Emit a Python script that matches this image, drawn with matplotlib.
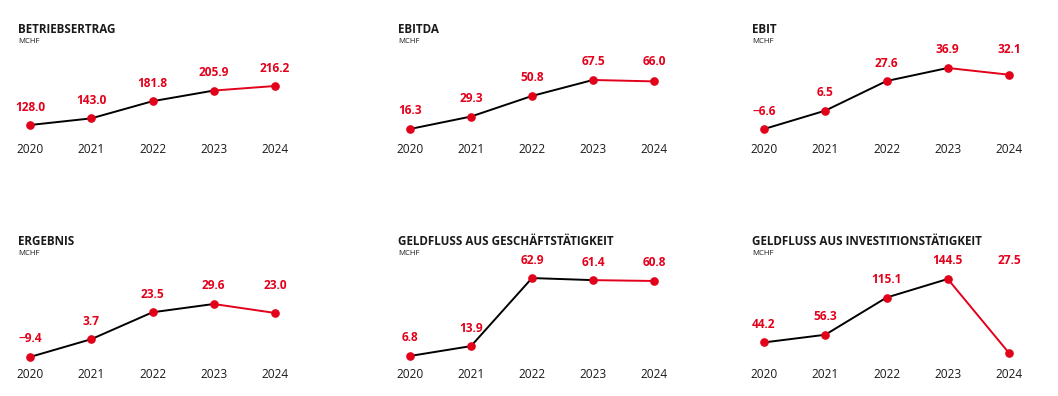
"""Kennzahlen 2020-2024 als kleine Liniendiagramme (2 x 3)."""

import matplotlib.pyplot as plt

plt.rcParams["font.family"] = ["Open Sans", "DejaVu Sans"]

W, H = 1058, 396
RED = "#e2001a"
INK = "#1a1a1a"

# ---------------------------------------------------------------------------
# Data
# ---------------------------------------------------------------------------

years = ["2020", "2021", "2022", "2023", "2024"]
unit = "MCHF"

titles = [
    "BETRIEBSERTRAG",
    "EBITDA",
    "EBIT",
    "ERGEBNIS",
    "GELDFLUSS AUS GESCHÄFTSTÄTIGKEIT",
    "GELDFLUSS AUS INVESTITIONSTÄTIGKEIT",
]

betriebsertrag = [128.0, 143.0, 181.8, 205.9, 216.2]
ebitda = [16.3, 29.3, 50.8, 67.5, 66.0]
ebit = [-6.6, 6.5, 27.6, 36.9, 32.1]
ergebnis = [-9.4, 3.7, 23.5, 29.6, 23.0]
geldfluss_geschaeft = [6.8, 13.9, 62.9, 61.4, 60.8]
geldfluss_invest = [44.2, 56.3, 115.1, 144.5, 27.5]

series = [betriebsertrag, ebitda, ebit, ergebnis, geldfluss_geschaeft, geldfluss_invest]

# ---------------------------------------------------------------------------
# Layout (pixels): first/last year x, axes top/bottom, y range per panel
# ---------------------------------------------------------------------------

col_x = [(30, 275), (410, 654), (764, 1009)]
row_y = [(50, 140), (265, 365)]
ylims = [(94.1, 297.6), (4.8, 98.8), (-14.4, 49.7),
         (-15.3, 58.3), (0.3, 72.3), (8.5, 166.6)]


def fmt(v):
    s = f"{abs(v):.1f}"
    return "\u2212" + s if v < 0 else s


fig = plt.figure(figsize=(W / 100, H / 100), dpi=100)

for i, (title, vals) in enumerate(zip(titles, series)):
    r, c = divmod(i, 3)
    x0, x4 = col_x[c]
    top, bottom = row_y[r]
    step = (x4 - x0) / 4
    left = x0 - 0.25 * step
    width = 4.5 * step
    ax = fig.add_axes([left / W, 1 - bottom / H, width / W, (bottom - top) / H])
    ax.set_xlim(-0.25, 4.25)
    ax.set_ylim(*ylims[i])

    xs = list(range(len(years)))
    ax.plot(xs[:4], vals[:4], color="black", lw=1.4, zorder=2, clip_on=False)
    ax.plot(xs[3:], vals[3:], color=RED, lw=1.4, zorder=2, clip_on=False)
    ax.plot(xs, vals, "o", color=RED, ms=5.2, zorder=3, clip_on=False)

    for j, v in enumerate(vals):
        # last label is kept level with the previous year when it is lower
        ly = max(vals[3], v) if j == 4 else v
        ax.annotate(fmt(v), (j, ly), xytext=(0, 18), textcoords="offset pixels",
                    ha="center", va="center", color=RED, fontsize=8.6,
                    fontweight="bold", annotation_clip=False)

    ax.set_xticks(xs)
    ax.set_xticklabels(years, fontsize=8.6, color=INK)
    ax.set_yticks([])
    ax.tick_params(axis="x", length=0, pad=2)
    for sp in ax.spines.values():
        sp.set_visible(False)
    ax.patch.set_alpha(0)

    tx = x0 - 12
    ty = 33 if r == 0 else 245
    fig.text(tx / W, 1 - ty / H, title, fontsize=8.4, fontweight="bold",
             color=INK, va="baseline", ha="left")
    fig.text(tx / W, 1 - (ty + 10) / H, unit, fontsize=5.6, color=INK,
             va="baseline", ha="left")

fig.savefig("out.png", dpi=100)
